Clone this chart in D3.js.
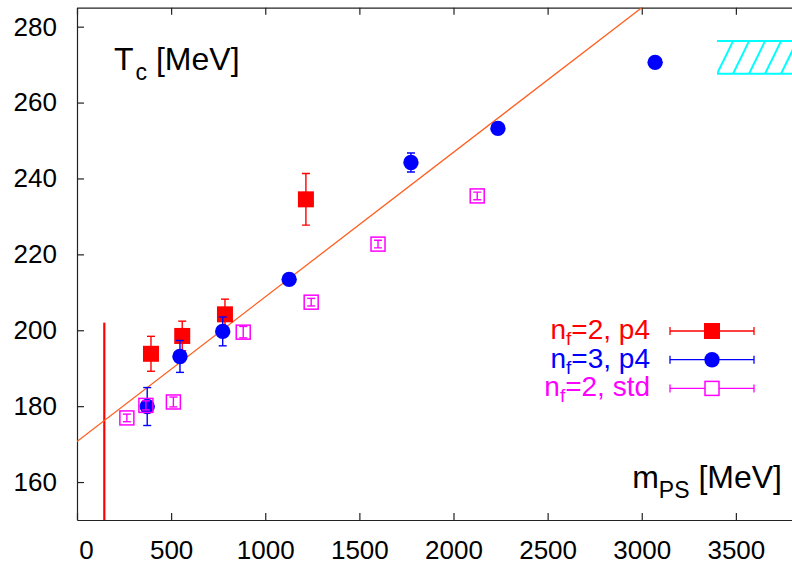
<!DOCTYPE html>
<meta charset="utf-8">
<style>

body {
  margin: 0;
  background: #fff;
}

svg {
  display: block;
  font-family: "Liberation Sans", Arial, sans-serif;
}

.axis path,
.axis line {
  stroke: #222;
  stroke-width: 1.2;
}

.axis text {
  font-size: 26px;
  fill: #000;
}

.fit {
  fill: none;
  stroke: #ff5f1f;
  stroke-width: 1.3;
}

.err {
  stroke-width: 1.4;
}

</style>
<svg width="792" height="566"></svg>
<script src="https://d3js.org/d3.v7.min.js"></script>
<script>

// nf=2, p4 (red filled squares)
var p4nf2M   = [393, 559, 786, 1216];
var p4nf2T   = [193.8, 198.5, 204.2, 234.5];
var p4nf2Err = [4.6, 3.9, 4.0, 6.8];

// nf=3, p4 (blue circles)
var p4nf3M   = [373, 547, 774, 1127, 1774, 2236, 3071];
var p4nf3T   = [179.9, 193.1, 199.7, 213.4, 244.2, 253.2, 270.6];
var p4nf3Err = [5.0, 4.2, 3.8, 0.8, 2.5, 1.5, 0];

// nf=2, std (magenta open squares)
var stdM   = [265, 366, 512, 883, 1244, 1599, 2126];
var stdT   = [176.9, 180.2, 181.1, 199.5, 207.4, 222.7, 235.4];
var stdErr = [1.0, 1.2, 1.3, 1.5, 1.0, 1.0, 1.0];

// linear fit T = a + b*m
var fitA = 170.7, fitB = 0.0381;

// physical pion mass line
var pionM = 145, pionTop = 202;

// hatched band (quenched value)
var bandM = [3400, 4000], bandT = [267.6, 276.2];

var xTicks = [0, 500, 1000, 1500, 2000, 2500, 3000, 3500];
var yTicks = [160, 180, 200, 220, 240, 260, 280];

var legendLabels = [["n", "f", "=2, p4"], ["n", "f", "=3, p4"], ["n", "f", "=2, std"]];
var legendColors = ["#ff0000", "#0000ff", "#ff00ff"];

var svg = d3.select("svg");

var x = d3.scaleLinear().domain([0, 4000]).range([77, 830]),
    y = d3.scaleLinear().domain([150, 285]).range([520, 7.7]);

svg.append("clipPath")
    .attr("id", "clip")
  .append("rect")
    .attr("x", x(0))
    .attr("y", y(285))
    .attr("width", x(4000) - x(0))
    .attr("height", y(150) - y(285));

// axes, ticks pointing inward
svg.append("g")
    .attr("class", "axis")
    .attr("transform", "translate(0," + y(150) + ")")
    .call(d3.axisBottom(x).tickValues(xTicks).tickFormat(d3.format("d"))
      .tickSize(-7).tickSizeOuter(0).tickPadding(21))
    .selectAll("text")
    .attr("dx", function(d) { return d === 0 ? 9 : 0; });

svg.append("g")
    .attr("class", "axis")
    .attr("transform", "translate(0," + y(285) + ")")
    .call(d3.axisTop(x).tickValues(xTicks).tickSize(-7).tickSizeOuter(0).tickFormat(""));

svg.append("g")
    .attr("class", "axis")
    .attr("transform", "translate(" + x(0) + ",0)")
    .call(d3.axisLeft(y).tickValues(yTicks).tickSize(-7).tickSizeOuter(0).tickPadding(20));

var plot = svg.append("g").attr("clip-path", "url(#clip)");

// hatched band
var bx0 = x(bandM[0]), bx1 = x(bandM[1]), byTop = y(bandT[1]), byBot = y(bandT[0]);
var hatchStep = 16;
var band = plot.append("g").attr("stroke", "#00ffff").attr("stroke-width", 2).attr("fill", "none");
band.append("clipPath").attr("id", "bandclip")
  .append("rect").attr("x", bx0).attr("y", byTop - 1).attr("width", bx1 - bx0).attr("height", byBot - byTop + 2);
band.selectAll(".edge")
    .data([byTop, byBot])
  .enter().append("line")
    .attr("x1", bx0).attr("x2", bx1)
    .attr("y1", function(d) { return d; })
    .attr("y2", function(d) { return d; });
band.append("g").attr("clip-path", "url(#bandclip)")
  .selectAll("line")
    .data(d3.range(0, Math.ceil((bx1 - bx0) / hatchStep) + 1))
  .enter().append("line")
    .attr("x1", function(k) { return bx0 + k * hatchStep; })
    .attr("y1", byBot)
    .attr("x2", function(k) { return bx0 + (k + 1) * hatchStep; })
    .attr("y2", byTop);

// physical point line
plot.append("line")
    .attr("x1", x(pionM)).attr("x2", x(pionM))
    .attr("y1", y(150)).attr("y2", y(pionTop))
    .attr("stroke", "#ff0000")
    .attr("stroke-width", 2.2);

// fit line
plot.append("path")
    .datum([0, 4000])
    .attr("class", "fit")
    .attr("d", d3.line()
      .x(function(m) { return x(m); })
      .y(function(m) { return y(fitA + fitB * m); }));

function series(ms, ts, errs) {
  return ms.map(function(m, i) { return {m: m, t: ts[i], e: errs[i]}; });
}

function errorBars(g, data, color) {
  var cap = 4;
  var eb = g.selectAll(".eb")
      .data(data.filter(function(d) { return d.e > 0; }))
    .enter().append("g")
      .attr("class", "err")
      .attr("stroke", color);
  eb.append("line")
      .attr("x1", function(d) { return x(d.m); })
      .attr("x2", function(d) { return x(d.m); })
      .attr("y1", function(d) { return y(d.t - d.e); })
      .attr("y2", function(d) { return y(d.t + d.e); });
  eb.selectAll(".cap")
      .data(function(d) { return [d.t - d.e, d.t + d.e].map(function(v) { return {m: d.m, v: v}; }); })
    .enter().append("line")
      .attr("x1", function(d) { return x(d.m) - cap; })
      .attr("x2", function(d) { return x(d.m) + cap; })
      .attr("y1", function(d) { return y(d.v); })
      .attr("y2", function(d) { return y(d.v); });
}

var red = series(p4nf2M, p4nf2T, p4nf2Err),
    blue = series(p4nf3M, p4nf3T, p4nf3Err),
    mag = series(stdM, stdT, stdErr);

var gRed = plot.append("g");
errorBars(gRed, red, legendColors[0]);
gRed.selectAll("rect")
    .data(red)
  .enter().append("rect")
    .attr("x", function(d) { return x(d.m) - 8; })
    .attr("y", function(d) { return y(d.t) - 8; })
    .attr("width", 16)
    .attr("height", 16)
    .attr("fill", legendColors[0]);

var gBlue = plot.append("g");
errorBars(gBlue, blue, legendColors[1]);
gBlue.selectAll("circle")
    .data(blue)
  .enter().append("circle")
    .attr("cx", function(d) { return x(d.m); })
    .attr("cy", function(d) { return y(d.t); })
    .attr("r", 7.7)
    .attr("fill", legendColors[1]);

var gMag = plot.append("g");
errorBars(gMag, mag, legendColors[2]);
gMag.selectAll("rect")
    .data(mag)
  .enter().append("rect")
    .attr("x", function(d) { return x(d.m) - 7; })
    .attr("y", function(d) { return y(d.t) - 7; })
    .attr("width", 14)
    .attr("height", 14)
    .attr("fill", "none")
    .attr("stroke", legendColors[2])
    .attr("stroke-width", 1.5);

// legend
var legend = svg.selectAll(".legend")
    .data(legendLabels)
  .enter().append("g")
    .attr("class", "legend")
    .attr("transform", function(d, i) { return "translate(0," + (331 + i * 28.7) + ")"; });

legend.append("text")
    .attr("x", 650)
    .attr("y", 8)
    .attr("text-anchor", "end")
    .attr("font-size", 28)
    .attr("fill", function(d, i) { return legendColors[i]; })
    .each(function(d) {
      var t = d3.select(this);
      t.append("tspan").text(d[0]);
      t.append("tspan").attr("font-size", 19).attr("dy", 6).text(d[1]);
      t.append("tspan").attr("dy", -6).text(d[2]);
    });

legend.append("line")
    .attr("x1", 670).attr("x2", 754)
    .attr("stroke", function(d, i) { return legendColors[i]; })
    .attr("stroke-width", 1.3);
legend.selectAll(".lcap")
    .data(function(d, i) { return [670, 754].map(function(v) { return {v: v, c: legendColors[i]}; }); })
  .enter().append("line")
    .attr("x1", function(d) { return d.v; })
    .attr("x2", function(d) { return d.v; })
    .attr("y1", -4).attr("y2", 4)
    .attr("stroke", function(d) { return d.c; })
    .attr("stroke-width", 1.3);

legend.filter(function(d, i) { return i === 0; }).append("rect")
    .attr("x", 704).attr("y", -8).attr("width", 16).attr("height", 16)
    .attr("fill", legendColors[0]);
legend.filter(function(d, i) { return i === 1; }).append("circle")
    .attr("cx", 712).attr("r", 7.7)
    .attr("fill", legendColors[1]);
legend.filter(function(d, i) { return i === 2; }).append("rect")
    .attr("x", 705).attr("y", -7).attr("width", 14).attr("height", 14)
    .attr("fill", "#fff")
    .attr("stroke", legendColors[2])
    .attr("stroke-width", 1.5);

// axis labels
var tc = svg.append("text")
    .attr("x", 114)
    .attr("y", 70)
    .attr("font-size", 32);
tc.append("tspan").text("T");
tc.append("tspan").attr("font-size", 23).attr("dy", 10).attr("dx", 2).text("c");
tc.append("tspan").attr("dy", -10).text(" [MeV]");

var mps = svg.append("text")
    .attr("x", 782)
    .attr("y", 488)
    .attr("text-anchor", "end")
    .attr("font-size", 32);
mps.append("tspan").text("m");
mps.append("tspan").attr("font-size", 23).attr("dy", 10).text("PS");
mps.append("tspan").attr("dy", -10).text(" [MeV]");

</script>
